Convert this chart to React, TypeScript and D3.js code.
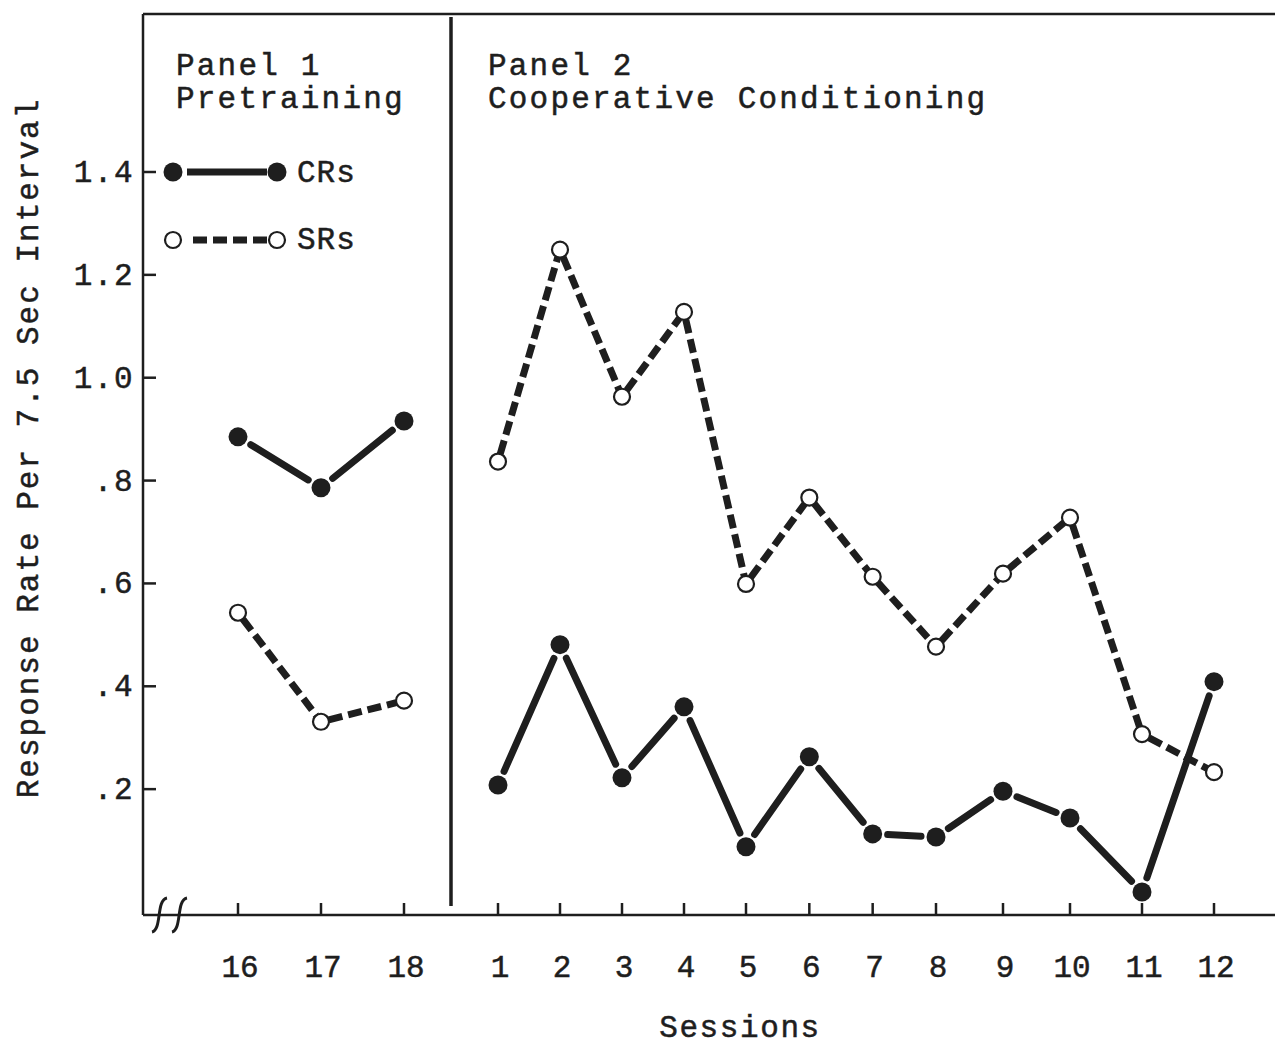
import React from 'react';
import * as d3 from 'd3';
import { useEffect, useRef } from 'react';

// sessions shown in each panel
const pretrainSessions = [16, 17, 18];
const condSessions = [1, 2, 3, 4, 5, 6, 7, 8, 9, 10, 11, 12];

// response rates
const pretrainCR = [0.885, 0.786, 0.916];
const pretrainSR = [0.543, 0.331, 0.372];
const condCR = [0.208, 0.481, 0.222, 0.36, 0.088, 0.263, 0.113, 0.107, 0.196, 0.144, 0.0, 0.409];
const condSR = [0.837, 1.249, 0.963, 1.128, 0.599, 0.767, 0.613, 0.477, 0.619, 0.728, 0.307, 0.233];

const yTicks = [0.2, 0.4, 0.6, 0.8, 1.0, 1.2, 1.4];
const yTickLabels = ['.2', '.4', '.6', '.8', '1.0', '1.2', '1.4'];

const W = 1275;
const H = 1047;
const FONT = "'Liberation Mono', 'Courier New', monospace";
const INK = '#1e1e1e';

const App = () => {
    const chartRef = useRef<SVGSVGElement | null>(null);

    useEffect((): void => {
        const svg = d3.select(chartRef.current);
        svg.selectAll('*').remove();

        const axisX = 143;
        const topY = 14;
        const baseY = 915;
        const dividerX = 451;

        const y = d3.scaleLinear().domain([0, 1.4]).range([892, 172]);
        const x1 = d3.scaleLinear().domain([16, 18]).range([238, 404]);
        // hand drawn spacing is uneven, so piecewise
        const x2 = d3.scaleLinear().domain([1, 5, 8, 10, 12]).range([498, 746, 936, 1070, 1214]);

        const label = (sel: any, size = 31, spacing = 0) =>
            sel.style('font-family', FONT).style('font-size', `${size}px`)
                .style('letter-spacing', `${spacing}px`)
                .attr('fill', INK).attr('stroke', INK).attr('stroke-width', 0.5);

        svg.append('rect').attr('width', W).attr('height', H).attr('fill', '#fff');

        // frame
        svg.append('line').attr('x1', axisX).attr('x2', W).attr('y1', topY).attr('y2', topY)
            .attr('stroke', INK).attr('stroke-width', 2.5);
        svg.append('line').attr('x1', axisX).attr('x2', axisX).attr('y1', topY).attr('y2', baseY)
            .attr('stroke', INK).attr('stroke-width', 2.5);
        svg.append('line').attr('x1', axisX).attr('x2', W).attr('y1', baseY).attr('y2', baseY)
            .attr('stroke', INK).attr('stroke-width', 2.5);
        svg.append('line').attr('x1', dividerX).attr('x2', dividerX).attr('y1', topY + 3).attr('y2', 906)
            .attr('stroke', INK).attr('stroke-width', 3.5);

        // axis break
        [152, 172].forEach((bx) => {
            svg.append('path')
                .attr('d', `M${bx},932 C${bx + 10},930 ${bx + 4},900 ${bx + 15},898`)
                .attr('fill', 'none').attr('stroke', INK).attr('stroke-width', 3);
        });

        // y axis
        const yG = svg.append('g');
        yTicks.forEach((t, i) => {
            yG.append('line').attr('x1', axisX).attr('x2', axisX + 13)
                .attr('y1', y(t)).attr('y2', y(t)).attr('stroke', INK).attr('stroke-width', 2.5);
            label(yG.append('text').attr('x', 134).attr('y', y(t) + 10).attr('text-anchor', 'end'), 31, 1.5)
                .text(yTickLabels[i]);
        });

        // x ticks
        const xTicks = [
            ...pretrainSessions.map((s) => ({ s, px: x1(s) })),
            ...condSessions.map((s) => ({ s, px: x2(s) })),
        ];
        xTicks.forEach((t) => {
            svg.append('line').attr('x1', t.px).attr('x2', t.px).attr('y1', baseY - 12).attr('y2', baseY)
                .attr('stroke', INK).attr('stroke-width', 2.5);
            label(svg.append('text').attr('x', t.px + 2).attr('y', 977).attr('text-anchor', 'middle'), 31)
                .text(String(t.s));
        });

        // axis titles
        label(svg.append('text').attr('x', 740).attr('y', 1037).attr('text-anchor', 'middle'), 31, 1.6)
            .text('Sessions');
        label(svg.append('text').attr('transform', 'translate(38,448) rotate(-90)')
            .attr('text-anchor', 'middle'), 31, 2)
            .text('Response Rate Per 7.5 Sec Interval');

        // panel titles
        const titles = [
            { x: 176, lines: ['Panel 1', 'Pretraining'] },
            { x: 488, lines: ['Panel 2', 'Cooperative Conditioning'] },
        ];
        titles.forEach((t) => {
            t.lines.forEach((ln, i) => {
                label(svg.append('text').attr('x', t.x).attr('y', 75 + i * 33), 31, 2.2).text(ln);
            });
        });

        // segments between points, trimmed at each end
        const drawSeries = (pts: [number, number][], gap: number, dashed: boolean) => {
            for (let i = 0; i < pts.length - 1; i++) {
                const [ax, ay] = pts[i];
                const [bx, by] = pts[i + 1];
                const len = Math.hypot(bx - ax, by - ay);
                const ux = (bx - ax) / len;
                const uy = (by - ay) / len;
                svg.append('line')
                    .attr('x1', ax + ux * gap).attr('y1', ay + uy * gap)
                    .attr('x2', bx - ux * gap).attr('y2', by - uy * gap)
                    .attr('stroke', INK).attr('stroke-width', 7)
                    .attr('stroke-dasharray', dashed ? '14,6' : null)
                    .attr('stroke-linecap', dashed ? 'butt' : 'round');
            }
        };
        const drawFilled = (pts: [number, number][]) => {
            pts.forEach(([px, py]) => {
                svg.append('circle').attr('cx', px).attr('cy', py).attr('r', 9.5).attr('fill', INK);
            });
        };
        const drawOpen = (pts: [number, number][]) => {
            pts.forEach(([px, py]) => {
                svg.append('circle').attr('cx', px).attr('cy', py).attr('r', 8)
                    .attr('fill', '#fff').attr('stroke', INK).attr('stroke-width', 2.2);
            });
        };

        const p1CR = pretrainSessions.map((s, i) => [x1(s), y(pretrainCR[i])] as [number, number]);
        const p1SR = pretrainSessions.map((s, i) => [x1(s), y(pretrainSR[i])] as [number, number]);
        const p2CR = condSessions.map((s, i) => [x2(s), y(condCR[i])] as [number, number]);
        const p2SR = condSessions.map((s, i) => [x2(s), y(condSR[i])] as [number, number]);

        drawSeries(p1SR, 8, true);
        drawSeries(p2SR, 8, true);
        drawSeries(p1CR, 15, false);
        drawSeries(p2CR, 15, false);
        drawOpen(p1SR);
        drawOpen(p2SR);
        drawFilled(p1CR);
        drawFilled(p2CR);

        // legend
        const lgX1 = 173;
        const lgX2 = 277;
        const lgCR = 172;
        const lgSR = 240;
        svg.append('line').attr('x1', lgX1 + 14).attr('x2', lgX2 - 10).attr('y1', lgCR).attr('y2', lgCR)
            .attr('stroke', INK).attr('stroke-width', 7);
        drawFilled([[lgX1, lgCR], [lgX2, lgCR]]);
        svg.append('line').attr('x1', lgX1 + 20).attr('x2', lgX2 - 8).attr('y1', lgSR).attr('y2', lgSR)
            .attr('stroke', INK).attr('stroke-width', 7).attr('stroke-dasharray', '14,6');
        drawOpen([[lgX1, lgSR], [lgX2, lgSR]]);
        label(svg.append('text').attr('x', 297).attr('y', lgCR + 10), 31, 1).text('CRs');
        label(svg.append('text').attr('x', 297).attr('y', lgSR + 9), 31, 1).text('SRs');
    }, []);

    return (
        <svg ref={chartRef} width={W} height={H}
            style={{ position: 'absolute', left: 0, top: 0, display: 'block' }}></svg>
    );
};

export default App;
